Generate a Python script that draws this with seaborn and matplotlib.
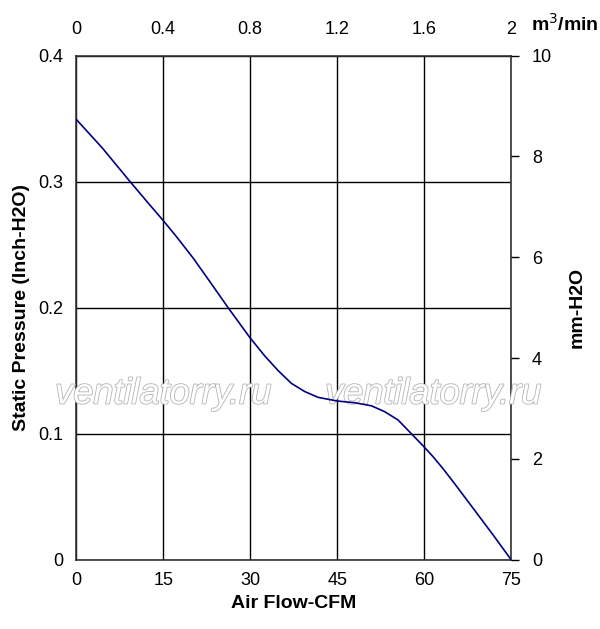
import numpy as np
import pandas as pd
import seaborn as sns
import matplotlib
matplotlib.use("Agg")
import matplotlib.pyplot as plt
import matplotlib.patheffects as pe

# curve (CFM vs inch H2O)
cfm = [0, 4.55, 9.3, 12.7, 15.0, 17.3, 20.2, 23.0, 26.2, 29.95, 32.5, 34.8,
       37.1, 39.4, 41.7, 45.0, 48.05, 50.9, 53.2, 55.5, 57.8, 60.1, 61.55,
       63.3, 65.0, 68.45, 71.9, 75]
pressure = [0.3495, 0.3265, 0.300, 0.2815, 0.2692, 0.2563, 0.2392, 0.2210, 0.2000,
            0.1763, 0.1618, 0.1502, 0.1400, 0.1335, 0.1289, 0.1260, 0.1246, 0.1222,
            0.1175, 0.1109, 0.1000, 0.0890, 0.0817, 0.0720, 0.0619, 0.0408, 0.0196, 0.0]

x_ticks = [0, 15, 30, 45, 60, 75]
y_ticks = [0, 0.1, 0.2, 0.3, 0.4]
top_ticks = [0, 0.4, 0.8, 1.2, 1.6, 2]
right_ticks = [0, 2, 4, 6, 8, 10]

df = pd.DataFrame({"cfm": cfm, "p": pressure})

sns.set_style("white")
plt.rcParams["font.family"] = ["Liberation Sans", "DejaVu Sans"]
plt.rcParams["text.color"] = "black"
plt.rcParams["axes.labelcolor"] = "black"

fig = plt.figure(figsize=(6, 6.29), dpi=100)
ax = fig.add_axes([0.127, 0.110, 0.725, 0.8015])

sns.lineplot(data=df, x="cfm", y="p", ax=ax, color="#000080", linewidth=1.2, zorder=5)

ax.set_xlim(0, 75)
ax.set_ylim(0, 0.4)
ax.set_xticks(x_ticks)
ax.set_xticklabels([str(t) for t in x_ticks])
ax.set_yticks(y_ticks)
ax.set_yticklabels(["0", "0.1", "0.2", "0.3", "0.4"])
ax.grid(True, color="black", linewidth=1.0)
ax.tick_params(axis="both", labelsize=13, length=0, pad=9, colors="black")
ax.set_xlabel("Air Flow-CFM", fontsize=14, fontweight="bold", labelpad=4)
ax.set_ylabel("Static Pressure (Inch-H2O)", fontsize=14, fontweight="bold", labelpad=6)
for s in ax.spines.values():
    s.set_color("#333333")
    s.set_linewidth(1.2)

# watermark, under the curve
for wx in [0.092, 0.542]:
    ax.text(wx, 0.3736, "ventilatorry.ru", transform=fig.transFigure, fontsize=26,
            style="italic", color="white", ha="left", va="center", zorder=3,
            clip_on=False,
            path_effects=[pe.withStroke(linewidth=1.2, foreground="#b4b4b4")])

# right axis mm-H2O
ax2 = ax.twinx()
ax2.set_ylim(0, 10)
ax2.set_yticks(right_ticks)
ax2.set_yticklabels([str(t) for t in right_ticks])
ax2.tick_params(axis="y", labelsize=13, length=6, width=1, pad=9, colors="black")
ax2.set_ylabel("mm-H2O", fontsize=14, fontweight="bold", labelpad=12)
for s in ax2.spines.values():
    s.set_visible(False)

# top axis m3/min
ax3 = ax.twiny()
ax3.set_xlim(0, 2)
ax3.set_xticks(top_ticks)
ax3.set_xticklabels(["0", "0.4", "0.8", "1.2", "1.6", "2"])
ax3.tick_params(axis="x", labelsize=13, length=0, pad=13, colors="black")
for s in ax3.spines.values():
    s.set_visible(False)
fig.text(0.885, 0.962, "m$^3$/min", fontsize=14, fontweight="bold", ha="left", va="center")

fig.savefig("out.png", dpi=100)
